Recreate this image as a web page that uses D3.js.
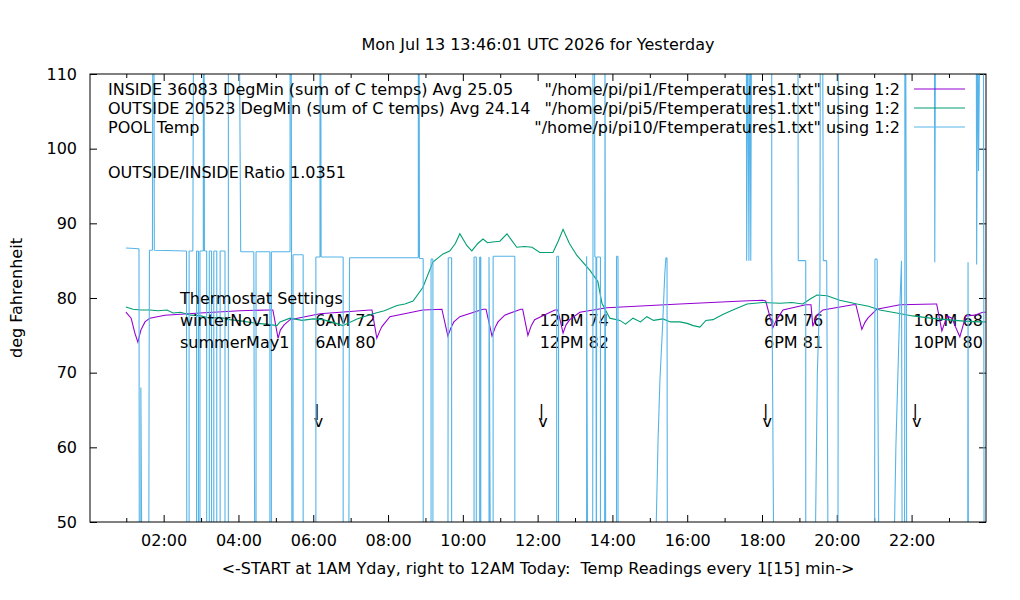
<!DOCTYPE html>
<html>
<head>
<meta charset="utf-8">
<script src="https://cdn.jsdelivr.net/npm/d3@7"></script>
<style>
  body { margin: 0; background: #fff; }
  text { font-family: "DejaVu Sans", sans-serif; font-size: 16px; fill: #000; }
</style>
</head>
<body>
<div id="chart"></div>
<script>
// Readings: [hour of yesterday, deg F]  (40 / 120 = off the scale)
var insideTemps = [
  [0.99,78.1],[1.13,77.3],[1.23,75.3],[1.31,74.1],[1.39,75.7],[1.50,76.8],[1.63,77.3],[2.03,77.7],
  [2.97,78.0],[4.04,78.3],[4.84,78.4],[4.92,78.4],[5.06,74.6],[5.12,75.7],[5.22,76.4],[5.38,77.1],
  [6.18,77.9],[7.52,78.4],[7.57,78.4],[7.70,74.6],[7.78,75.6],[7.84,76.2],[8.05,77.5],[8.93,78.4],
  [9.44,78.5],[9.60,74.9],[9.68,76.0],[9.76,76.8],[9.92,77.5],[10.54,78.5],[10.62,78.5],[10.78,74.9],
  [10.86,76.0],[10.94,76.8],[11.12,77.7],[11.55,78.5],[11.60,78.5],[11.74,75.0],[11.83,76.3],[11.92,77.1],
  [12.46,78.4],[12.54,78.4],[12.68,75.3],[12.76,76.4],[12.86,77.1],[13.13,78.1],[13.85,78.7],[15.80,79.2],
  [17.49,79.6],[18.02,79.7],[18.10,79.6],[18.29,76.0],[18.36,76.8],[18.42,77.3],[18.56,78.4],[19.17,79.1],
  [19.31,79.1],[19.36,76.2],[19.47,77.7],[19.63,78.4],[20.43,79.1],[20.51,79.1],[20.67,75.8],[20.75,76.7],
  [20.83,77.3],[21.07,78.5],[21.69,79.1],[22.62,79.2],[22.67,79.2],[22.81,75.6],[22.95,77.6],[23.08,77.3],
  [23.16,76.3],[23.29,74.8],[23.45,77.6],[23.69,77.7],[23.90,78.1],[23.98,78.1]
];

var outsideTemps = [
  [0.99,78.8],[1.18,78.5],[1.40,78.4],[1.63,78.4],[1.85,78.3],[2.09,78.4],[2.25,78.0],[2.45,78.1],
  [2.73,77.7],[3.00,77.6],[3.24,77.3],[3.50,77.4],[3.77,77.1],[4.10,76.9],[4.49,76.6],[4.75,76.5],
  [5.03,76.3],[5.11,76.8],[5.38,77.3],[5.70,77.0],[6.00,77.2],[6.26,77.1],[6.55,76.7],[6.79,76.3],
  [7.17,77.2],[7.60,77.9],[7.90,78.3],[8.24,79.0],[8.45,79.2],[8.67,79.6],[8.93,81.4],[9.20,84.8],
  [9.47,85.9],[9.65,86.3],[9.80,87.3],[9.92,88.6],[10.11,87.0],[10.24,86.3],[10.40,87.3],[10.54,87.9],
  [10.66,87.4],[10.80,87.5],[10.99,87.6],[11.18,88.6],[11.44,86.8],[11.65,86.9],[11.85,86.8],[12.06,86.1],
  [12.41,86.1],[12.55,87.6],[12.68,89.2],[12.85,87.3],[13.05,85.7],[13.40,83.7],[13.61,82.2],[13.72,79.3],
  [13.93,77.3],[14.20,77.0],[14.35,76.5],[14.55,77.3],[14.75,76.8],[14.92,77.5],[15.10,77.0],[15.35,77.2],
  [15.55,76.8],[15.80,76.8],[16.00,76.6],[16.16,76.3],[16.34,76.1],[16.50,77.0],[16.69,77.1],[16.95,77.8],
  [17.22,78.4],[17.60,79.2],[18.02,79.4],[18.48,79.3],[18.80,79.4],[19.09,79.2],[19.30,79.9],[19.47,80.4],
  [19.74,80.3],[20.08,79.7],[20.54,79.2],[20.85,78.9],[21.15,78.4],[21.60,78.0],[22.03,77.6],[22.50,77.3],
  [22.93,77.1],[23.40,76.9],[23.83,76.8],[23.98,76.8]
];

var poolTemps = [
  [0.99,86.7],[1.34,86.6],[1.35,40],[1.39,40],[1.39,68],[1.40,59],[1.42,40],[1.60,40],[1.61,68],[1.62,86.4],
  [1.70,86.4],[1.71,120],[1.74,120],[1.75,86.4],[2.61,86.3],[2.62,40],[2.68,40],[2.68,86.3],[2.78,86.3],[2.80,120],
  [2.81,120],[2.84,40],[2.88,40],[2.88,86.3],[2.93,86.3],[2.93,40],[2.97,40],[2.97,86.3],[3.06,86.3],[3.06,120],
  [3.08,120],[3.09,86.3],[3.15,86.3],[3.15,40],[3.22,40],[3.22,86.3],[3.28,86.3],[3.28,40],[3.34,40],[3.34,86.3],
  [3.42,86.3],[3.42,40],[3.51,40],[3.51,86.3],[3.64,86.3],[3.64,40],[3.73,40],[3.73,86],[3.73,120],[4.02,120],
  [4.06,86.2],[4.41,86.2],[4.42,68],[4.44,40],[4.47,40],[4.47,86.2],[4.84,86.2],[4.84,40],[4.88,40],[4.88,86.2],
  [5.38,86.2],[5.38,120],[5.41,120],[5.42,85.8],[5.43,40],[5.46,40],[5.46,85.8],[5.73,85.8],[5.73,40],[6.07,40],
  [6.07,85.5],[6.18,85.5],[6.18,120],[6.20,120],[6.21,85.5],[6.80,85.5],[6.80,40],[6.95,40],[6.96,67.6],[6.97,85.4],
  [8.81,85.4],[8.81,120],[8.83,120],[8.84,85.3],[8.94,85.3],[8.94,40],[9.15,40],[9.15,85.2],[9.20,85.2],[9.20,40],
  [9.60,40],[9.61,85.4],[9.70,85.4],[9.70,40],[10.30,40],[10.30,85.5],[10.36,85.5],[10.36,40],[10.45,40],[10.45,85.5],
  [10.48,85.5],[10.48,40],[10.70,40],[10.70,85.5],[10.74,40],[10.81,40],[10.81,85.6],[11.39,85.6],[11.39,40],[12.51,40],
  [12.51,85.6],[12.56,85.6],[12.56,40],[13.31,40],[13.31,85.6],[13.34,40],[13.47,40],[13.48,85.5],[13.48,120],[13.52,120],
  [13.53,85.5],[13.56,85.5],[13.57,40],[13.58,85.5],[13.68,85.5],[13.68,40],[13.79,40],[13.80,85],[13.80,120],[13.81,85],
  [13.82,40],[14.11,40],[14.11,85.6],[14.15,85.6],[14.15,40],[15.13,40],[15.22,60.9],[15.27,68.9],[15.34,76.1],[15.40,83.2],
  [15.43,85.4],[15.46,85.4],[15.47,40],[17.58,120],[17.59,85],[17.62,120],[17.65,85],[17.68,120],[17.70,85],[17.72,120],
  [18.26,120],[18.26,86],[18.32,40],[18.96,120],[18.97,85],[19.17,85],[19.17,40],[19.41,40],[19.48,70],[19.55,81.4],
  [19.56,120],[19.62,120],[19.64,85],[19.73,85],[19.77,40],[20.03,40],[20.04,85],[20.04,120],[20.05,40],[21.01,40],
  [21.02,85.2],[21.08,85.2],[21.13,40],[21.51,40],[21.58,60],[21.68,78],[21.73,85],[21.75,40],[21.81,40],[21.82,85],
  [21.82,120],[21.84,120],[21.86,85],[21.87,40],[22.61,120],[22.62,84.8],[22.64,120],[23.50,40],[23.51,84.8],[23.52,40],
  [23.73,120],[23.74,84.5],[23.77,120],[23.79,97],[23.83,120],[23.92,120],[23.93,85],[23.94,40],[23.98,40]
];

var legendTitles = [
  "INSIDE 36083 DegMin (sum of C temps) Avg 25.05",
  "OUTSIDE 20523 DegMin (sum of C temps) Avg 24.14",
  "POOL Temp"
];
var legendFiles = [
  "\"/home/pi/pi1/Ftemperatures1.txt\" using 1:2",
  "\"/home/pi/pi5/Ftemperatures1.txt\" using 1:2",
  "\"/home/pi/pi10/Ftemperatures1.txt\" using 1:2"
];
var seriesColors = ["#9400d3", "#009e73", "#56b4e9"];

var yTicks = [50, 60, 70, 80, 90, 100, 110];
var xMajorTicks = [2, 4, 6, 8, 10, 12, 14, 16, 18, 20, 22];
var xMinorTicks = [1, 3, 5, 7, 9, 11, 13, 15, 17, 19, 21, 23];

var thermoHours = [6, 12, 18, 22];
var winterSettings = ["6AM 72", "12PM 74", "6PM 76", "10PM 68"];
var summerSettings = ["6AM 80", "12PM 82", "6PM 81", "10PM 80"];

// Create parameters
var svgWidth = 1020;
var svgHeight = 600;
var margin = { top: 74, bottom: 78, left: 90, right: 34 };
var width = svgWidth - margin.left - margin.right;
var height = svgHeight - margin.top - margin.bottom;

var svg = d3.select("#chart")
  .append("svg")
  .attr("width", svgWidth)
  .attr("height", svgHeight);

var chartGroup = svg.append("g")
  .attr("transform", `translate(${margin.left}, ${margin.top})`);

// Scales
// ==============================
var xScale = d3.scaleLinear()
  .domain([0.03, 23.99])
  .range([0, width]);

var yScale = d3.scaleLinear()
  .domain([50, 110])
  .range([height, 0]);

var hh = d3.format("02d");

// Axes (gnuplot style: inward ticks, mirrored)
// ==============================
function styleAxis(g) {
  g.select(".domain").remove();
  g.selectAll("text")
    .attr("font-family", "DejaVu Sans, sans-serif")
    .attr("font-size", 16)
    .attr("fill", "#000");
  g.selectAll("line").attr("stroke", "#000");
}

chartGroup.append("g")
  .attr("transform", `translate(0, ${height})`)
  .call(d3.axisBottom(xScale).tickValues(xMajorTicks).tickSize(-7).tickPadding(13)
    .tickFormat(d => hh(d) + ":00"))
  .call(styleAxis);

chartGroup.append("g")
  .attr("transform", `translate(0, ${height})`)
  .call(d3.axisBottom(xScale).tickValues(xMinorTicks).tickSize(-4).tickFormat(""))
  .call(styleAxis);

chartGroup.append("g")
  .call(d3.axisTop(xScale).tickValues(xMajorTicks).tickSize(-7).tickFormat(""))
  .call(styleAxis);

chartGroup.append("g")
  .call(d3.axisTop(xScale).tickValues(xMinorTicks).tickSize(-4).tickFormat(""))
  .call(styleAxis);

chartGroup.append("g")
  .call(d3.axisLeft(yScale).tickValues(yTicks).tickSize(-7).tickPadding(13))
  .call(styleAxis);

chartGroup.append("g")
  .attr("transform", `translate(${width}, 0)`)
  .call(d3.axisRight(yScale).tickValues(yTicks).tickSize(-7).tickFormat(""))
  .call(styleAxis);

// Text (drawn under the data, like gnuplot)
// ==============================
svg.append("text")
  .attr("x", margin.left + width / 2)
  .attr("y", 50)
  .attr("text-anchor", "middle")
  .text("Mon Jul 13 13:46:01 UTC 2026 for Yesterday");

svg.append("text")
  .attr("x", margin.left + width / 2)
  .attr("y", 574)
  .attr("text-anchor", "middle")
  .attr("xml:space", "preserve")
  .style("white-space", "pre")
  .text("<-START at 1AM Yday, right to 12AM Today:  Temp Readings every 1[15] min->");

svg.append("text")
  .attr("transform", `translate(22, ${margin.top + height / 2}) rotate(-90)`)
  .attr("text-anchor", "middle")
  .text("deg Fahrenheit");

// key
var key = svg.append("g");
legendTitles.forEach(function(t, i) {
  var y = 89 + i * 19;
  key.append("text").attr("x", 108).attr("y", y + 6).text(t);
  key.append("text").attr("x", 900).attr("y", y + 6).attr("text-anchor", "end").text(legendFiles[i]);
  key.append("line")
    .attr("x1", 914).attr("x2", 965)
    .attr("y1", y).attr("y2", y)
    .attr("stroke", seriesColors[i])
    .attr("stroke-width", 1);
});

svg.append("text").attr("x", 108).attr("y", 178).text("OUTSIDE/INSIDE Ratio 1.0351");

// thermostat labels
svg.append("text").attr("x", 180).attr("y", 304).text("Thermostat Settings");
svg.append("text").attr("x", 180).attr("y", 326).text("winterNov1");
svg.append("text").attr("x", 180).attr("y", 348).text("summerMay1");

var thermo = chartGroup.append("g");
thermoHours.forEach(function(h, i) {
  var x = xScale(h);
  thermo.append("text").attr("x", x + 2).attr("y", 326 - margin.top).text(winterSettings[i]);
  thermo.append("text").attr("x", x + 2).attr("y", 348 - margin.top).text(summerSettings[i]);
  // the "|" over "v" arrow is one label
  var arrow = thermo.append("text").attr("x", x + 1).attr("y", 416 - margin.top);
  arrow.append("tspan").attr("x", x + 1).text("|");
  arrow.append("tspan").attr("x", x + 0.5).attr("dy", 11).text("v");
});

// Data lines
// ==============================
chartGroup.append("clipPath")
  .attr("id", "plotClip")
  .append("rect")
  .attr("width", width)
  .attr("height", height);

var plotArea = chartGroup.append("g").attr("clip-path", "url(#plotClip)");

var line = d3.line()
  .x(d => xScale(d[0]))
  .y(d => yScale(d[1]));

plotArea.append("path")
  .datum(insideTemps)
  .attr("fill", "none")
  .attr("stroke", seriesColors[0])
  .attr("stroke-width", 1.1)
  .attr("d", line);

plotArea.append("path")
  .datum(outsideTemps)
  .attr("fill", "none")
  .attr("stroke", seriesColors[1])
  .attr("stroke-width", 1.1)
  .attr("d", line);

// gnuplot skips segments with both ends off the graph
var inRange = v => v >= 50 && v <= 110;
var poolPath = d3.pairs(poolTemps)
  .filter(p => inRange(p[0][1]) || inRange(p[1][1]))
  .map(p => line(p))
  .join("");

plotArea.append("path")
  .attr("fill", "none")
  .attr("stroke", seriesColors[2])
  .attr("stroke-width", 1.1)
  .attr("d", poolPath);

// Border
chartGroup.append("rect")
  .attr("width", width)
  .attr("height", height)
  .attr("fill", "none")
  .attr("stroke", "#000")
  .attr("stroke-width", 1);
</script>
</body>
</html>
